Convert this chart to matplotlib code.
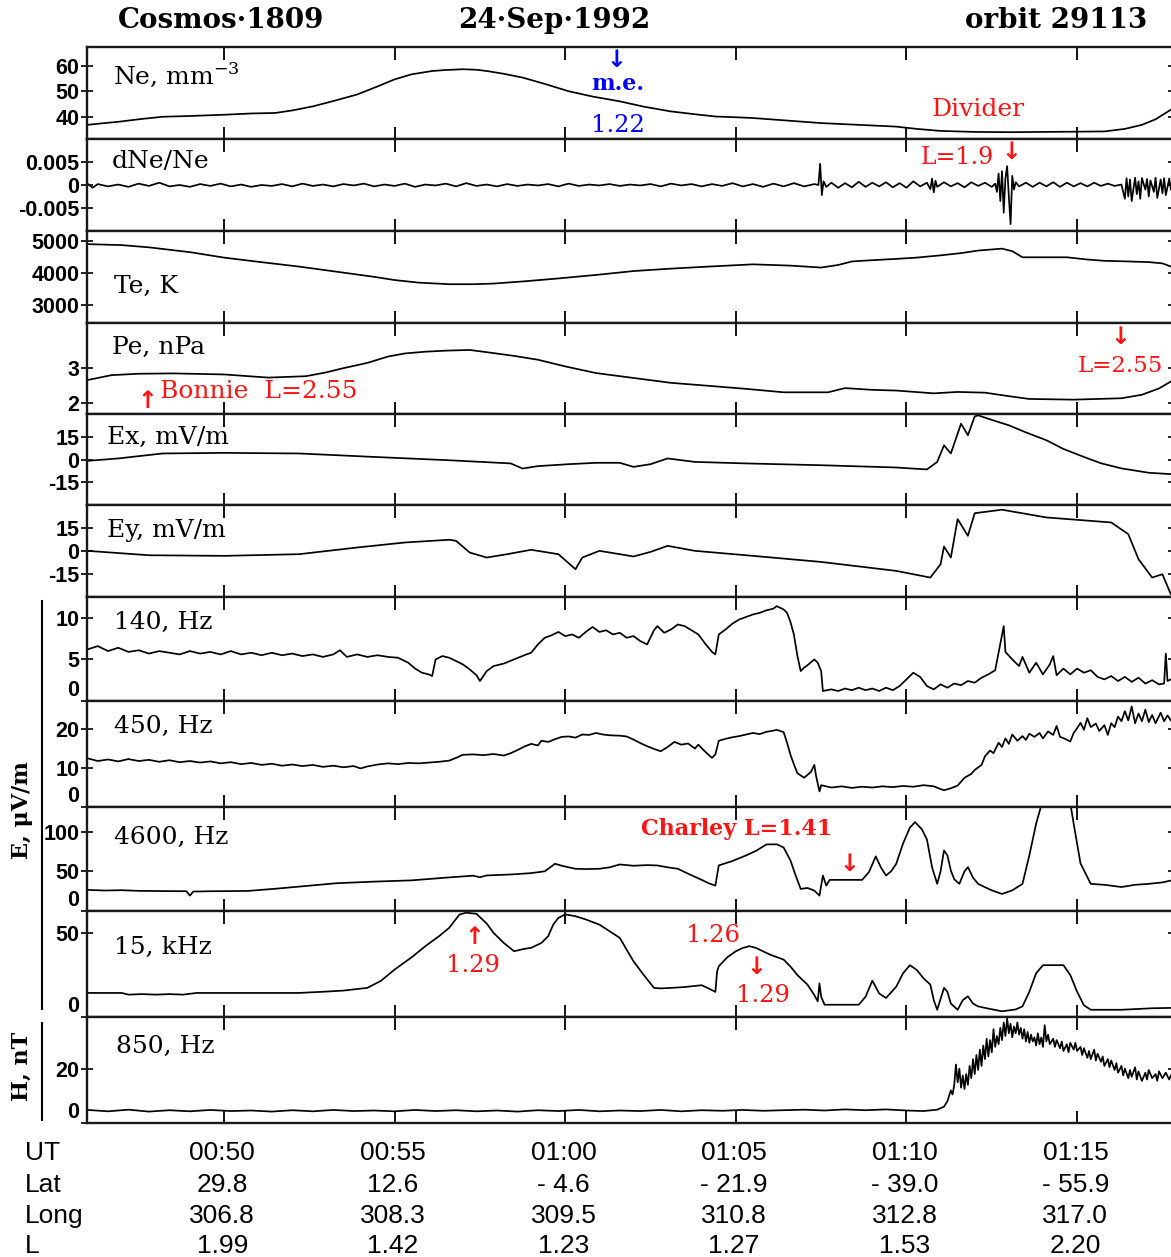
import numpy as np
import matplotlib
matplotlib.use('Agg')
import matplotlib.pyplot as plt
from matplotlib.lines import Line2D
from matplotlib import transforms

# ---------------------------------------------------------------
# data, time in minutes after 00:00 UT
# ---------------------------------------------------------------

ut_ticks = [50, 55, 60, 65, 70, 75]
ut_labels = ['00:50', '00:55', '01:00', '01:05', '01:10', '01:15']
lat_labels = ['29.8', '12.6', '- 4.6', '- 21.9', '- 39.0', '- 55.9']
long_labels = ['306.8', '308.3', '309.5', '310.8', '312.8', '317.0']
l_labels = ['1.99', '1.42', '1.23', '1.27', '1.53', '2.20']

# Ne, mm-3
ne_pts = [(46.0, 36.8), (46.5, 37.5), (46.9, 38.0), (47.5, 39.0), (48.2, 40.0),
          (49.0, 40.3), (50.0, 40.8), (50.8, 41.3), (51.5, 41.5), (52.0, 42.5),
          (52.6, 44.1), (53.2, 46.2), (53.9, 48.8), (54.5, 52.0), (55.0, 54.8),
          (55.5, 56.8), (56.1, 58.1), (56.5, 58.5), (57.0, 58.8), (57.4, 58.6),
          (57.7, 58.1), (58.2, 57.0), (58.75, 55.5), (59.4, 53.0), (60.1, 50.1),
          (60.8, 48.0), (61.6, 46.1), (62.3, 44.0), (63.1, 42.1), (63.8, 41.0),
          (64.4, 40.1), (65.0, 39.8), (65.5, 39.5), (66.5, 38.5), (67.5, 37.5),
          (68.6, 36.8), (69.7, 36.1), (70.3, 35.2), (71.0, 34.4), (72.0, 34.0),
          (73.0, 33.9), (74.0, 34.0), (75.0, 34.1), (75.8, 34.2), (76.4, 35.2),
          (76.9, 36.8), (77.3, 39.0), (77.75, 42.8)]

# dNe/Ne, in units of 1e-3
dne_pts = [(46.0, 0.3), (46.15, -0.6), (46.3, 0.2), (46.6, -0.3), (46.9, 0.1), (47.2, -0.4),
           (47.5, 0.3), (47.8, -0.2), (48.1, 0.5), (48.4, -0.3), (48.7, 0.0), (49.0, -0.4),
           (49.3, 0.2), (49.6, -0.2), (49.9, 0.3), (50.2, -0.3), (50.5, 0.1), (50.8, -0.4),
           (51.1, 0.0), (51.4, -0.2), (51.7, 0.2), (52.0, -0.3), (52.3, 0.3), (52.6, -0.2),
           (52.9, 0.1), (53.2, -0.3), (53.5, 0.2), (53.8, -0.1), (54.1, 0.3), (54.4, -0.3),
           (54.7, 0.1), (55.0, -0.2), (55.3, 0.3), (55.6, -0.4), (55.9, 0.1), (56.2, -0.1),
           (56.5, 0.3), (56.8, -0.3), (57.1, 0.4), (57.4, -0.2), (57.7, 0.1), (58.0, -0.3),
           (58.3, 0.2), (58.6, -0.2), (58.9, 0.1), (59.2, -0.1), (59.5, 0.2), (59.8, -0.3),
           (60.1, 0.3), (60.4, -0.2), (60.7, 0.1), (61.0, -0.1), (61.3, 0.2), (61.6, -0.2),
           (61.9, 0.1), (62.2, -0.1), (62.5, 0.2), (62.8, -0.3), (63.1, 0.3), (63.4, -0.1),
           (63.7, 0.2), (64.0, -0.3), (64.3, 0.2), (64.6, -0.2), (64.9, 0.4), (65.2, -0.3),
           (65.5, 0.2), (65.8, -0.4), (66.1, 0.3), (66.4, -0.3), (66.7, 0.4), (67.0, -0.3),
           (67.3, 0.2), (67.42, 0.0), (67.47, 4.6), (67.52, -2.2), (67.57, 0.8), (67.65, -0.4),
           (67.8, 0.5), (68.0, -0.6), (68.2, 0.4), (68.4, -0.5), (68.6, 0.7), (68.8, -0.4),
           (69.0, 0.5), (69.2, -0.3), (69.4, 0.6), (69.6, -0.5), (69.8, 0.4), (70.0, -0.6),
           (70.2, 0.8), (70.4, -0.3), (70.6, 0.5), (70.7, -0.9), (70.75, 1.4), (70.8, -1.6),
           (70.85, 0.9), (70.9, -0.4), (71.1, 0.6), (71.3, -0.3), (71.5, 0.4), (71.7, -0.5),
           (71.9, 0.6), (72.1, -0.2), (72.3, 0.5), (72.5, -0.4), (72.6, 0.3), (72.65, -1.5),
           (72.7, 2.5), (72.75, -3.5), (72.8, 3.0), (72.85, -6.0), (72.9, 1.5), (72.95, 4.1),
           (73.0, -2.5), (73.05, -8.5), (73.1, 2.0), (73.15, -1.0), (73.2, 0.6), (73.3, -0.3),
           (73.5, 0.5), (73.7, -0.4), (73.9, 0.5), (74.1, -0.3), (74.3, 0.6), (74.5, -0.4),
           (74.7, 0.5), (74.9, -0.3), (75.1, 0.4), (75.3, -0.3), (75.5, 0.5), (75.7, -0.2),
           (75.9, 0.3), (76.1, -0.2), (76.3, 0.1), (76.4, -3.0), (76.45, 1.5), (76.5, -2.5),
           (76.55, 1.2), (76.6, -3.5), (76.7, 1.6), (76.75, -2.0), (76.8, 0.8), (76.85, -3.0),
           (76.9, 1.5), (77.0, -1.0), (77.05, 1.3), (77.1, -2.5), (77.15, 1.0), (77.25, -1.5),
           (77.3, 1.6), (77.35, -2.8), (77.45, 1.2), (77.5, -1.8), (77.55, 1.5), (77.6, -2.2),
           (77.7, 1.4), (77.75, -1.0)]

# Te, K
te_pts = [(46.0, 4900), (47.0, 4870), (47.8, 4800), (49.0, 4650), (50.0, 4480),
          (51.0, 4350), (52.2, 4200), (53.3, 4040), (54.4, 3880), (55.0, 3780),
          (55.7, 3700), (56.6, 3650), (57.3, 3650), (57.9, 3670), (58.8, 3740),
          (59.8, 3830), (61.0, 3950), (62.0, 4060), (63.0, 4130), (64.2, 4200),
          (65.5, 4270), (66.6, 4230), (67.5, 4170), (68.0, 4250), (68.4, 4360),
          (69.0, 4400), (69.7, 4440), (70.3, 4480), (71.0, 4550), (71.6, 4620),
          (72.1, 4700), (72.8, 4760), (73.1, 4680), (73.4, 4490), (74.0, 4490),
          (74.7, 4490), (75.3, 4420), (75.8, 4380), (76.5, 4360), (77.1, 4340),
          (77.5, 4300), (77.75, 4200)]

# Pe, nPa
pe_pts = [(46.0, 2.66), (46.7, 2.80), (47.5, 2.84), (48.5, 2.85), (50.0, 2.82),
          (51.3, 2.73), (52.4, 2.77), (53.0, 2.88), (53.5, 3.00), (54.2, 3.15),
          (54.8, 3.33), (55.3, 3.42), (55.9, 3.47), (56.5, 3.50), (57.2, 3.52),
          (57.9, 3.43), (58.5, 3.35), (59.2, 3.24), (60.0, 3.05), (60.9, 2.86),
          (62.0, 2.72), (63.1, 2.58), (64.4, 2.48), (65.4, 2.40), (66.4, 2.31),
          (67.7, 2.31), (68.2, 2.43), (69.0, 2.38), (69.7, 2.36), (70.8, 2.28),
          (71.5, 2.32), (72.3, 2.30), (73.0, 2.20), (73.6, 2.12), (74.9, 2.10),
          (75.6, 2.12), (76.3, 2.14), (76.9, 2.24), (77.4, 2.42), (77.75, 2.62)]

# Ex, mV/m
ex_pts = [(46.0, -0.9), (46.9, 0.7), (48.2, 4.0), (50.0, 4.4), (52.2, 4.0),
          (54.4, 1.7), (56.6, -0.5), (58.4, -2.6), (58.75, -6.0), (59.2, -4.4),
          (60.1, -3.1), (60.9, -2.2), (61.6, -2.2), (62.0, -4.9), (62.5, -3.1),
          (63.0, 0.7), (63.8, -1.6), (65.3, -2.6), (67.5, -3.8), (69.7, -5.3),
          (70.6, -6.6), (70.9, -1.6), (71.1, 9.4), (71.3, 4.0), (71.6, 23.8),
          (71.8, 16.1), (72.0, 28.6), (72.1, 29.3), (72.5, 26.3), (73.0, 22.7),
          (73.5, 18.0), (74.1, 12.8), (74.6, 7.0), (75.2, 1.7), (75.7, -2.5),
          (76.3, -5.9), (77.1, -8.8), (77.75, -9.7)]

# Ey, mV/m
ey_pts = [(46.0, 0.0), (47.8, -2.9), (50.0, -3.3), (52.2, -2.2), (53.9, 2.2),
          (55.3, 5.5), (56.6, 7.3), (56.8, 6.6), (57.2, -1.1), (57.7, -4.4),
          (58.3, -2.2), (59.0, 0.7), (59.8, -2.2), (60.3, -12.1), (60.5, -4.4),
          (61.0, 0.0), (61.6, -2.2), (62.0, -3.7), (62.5, -0.7), (63.0, 3.3),
          (63.8, 0.0), (65.3, -2.9), (67.5, -7.3), (69.7, -13.2), (70.7, -17.6),
          (71.0, -8.8), (71.1, 2.9), (71.3, -4.4), (71.5, 20.9), (71.8, 9.9),
          (72.0, 24.8), (72.8, 27.1), (74.1, 22.0), (76.0, 18.7), (76.5, 11.0),
          (76.8, -5.5), (77.2, -17.6), (77.5, -15.4), (77.75, -28.7)]

# E, uV/m at 140 Hz
e140_pts = [(46.0, 6.2), (46.3, 6.6), (46.6, 6.0), (46.9, 6.4), (47.2, 5.9), (47.5, 6.1),
            (47.8, 5.7), (48.1, 6.0), (48.4, 5.8), (48.7, 5.6), (49.0, 6.0), (49.3, 5.7),
            (49.6, 5.9), (49.9, 5.6), (50.2, 6.0), (50.5, 5.6), (50.8, 5.8), (51.1, 5.5),
            (51.4, 5.8), (51.7, 5.5), (52.0, 5.7), (52.3, 5.4), (52.6, 5.6), (52.9, 5.3),
            (53.2, 5.6), (53.4, 6.1), (53.6, 5.3), (53.9, 5.6), (54.2, 5.3), (54.5, 5.5),
            (54.8, 5.3), (55.1, 5.2), (55.4, 4.6), (55.6, 3.9), (55.8, 3.4), (56.0, 3.2),
            (56.1, 3.0), (56.2, 5.0), (56.4, 5.4), (56.6, 5.2), (56.8, 4.8), (57.0, 4.4),
            (57.2, 3.8), (57.4, 3.1), (57.5, 2.4), (57.7, 3.6), (57.9, 4.2), (58.2, 4.5),
            (58.5, 5.0), (58.8, 5.5), (59.0, 5.8), (59.2, 6.8), (59.4, 7.6), (59.6, 7.9),
            (59.8, 8.3), (60.0, 7.8), (60.2, 8.0), (60.4, 7.6), (60.6, 8.3), (60.8, 8.9),
            (61.0, 8.3), (61.2, 8.5), (61.4, 8.0), (61.6, 8.2), (61.8, 7.6), (62.0, 7.8),
            (62.2, 7.2), (62.4, 6.8), (62.6, 8.5), (62.7, 9.0), (62.9, 8.2), (63.1, 8.6),
            (63.3, 9.2), (63.5, 9.0), (63.7, 8.5), (63.9, 8.0), (64.1, 6.9), (64.3, 5.9),
            (64.4, 5.6), (64.5, 8.0), (64.7, 8.6), (64.9, 9.3), (65.1, 9.8), (65.3, 10.1),
            (65.5, 10.4), (65.7, 10.6), (65.9, 10.9), (66.1, 11.1), (66.2, 11.4), (66.4, 11.0),
            (66.5, 10.6), (66.6, 9.5), (66.7, 8.0), (66.8, 5.5), (66.9, 3.6), (67.0, 4.0),
            (67.1, 4.3), (67.3, 5.0), (67.4, 4.6), (67.5, 3.6), (67.55, 1.2), (67.8, 1.4),
            (68.0, 1.2), (68.2, 1.5), (68.4, 1.3), (68.6, 1.6), (68.8, 1.3), (69.0, 1.5),
            (69.2, 1.2), (69.4, 1.6), (69.6, 1.3), (69.8, 1.8), (70.0, 2.6), (70.2, 3.4),
            (70.4, 2.9), (70.6, 1.8), (70.8, 1.4), (71.0, 2.0), (71.2, 1.6), (71.4, 2.1),
            (71.6, 1.9), (71.8, 2.4), (72.0, 2.2), (72.2, 2.8), (72.4, 3.2), (72.6, 3.7),
            (72.7, 5.8), (72.85, 9.0), (72.9, 5.9), (73.1, 5.0), (73.3, 4.2), (73.4, 5.3),
            (73.6, 3.4), (73.8, 4.6), (74.0, 3.2), (74.2, 4.4), (74.3, 5.4), (74.4, 3.1),
            (74.6, 3.9), (74.8, 3.2), (75.0, 3.9), (75.2, 3.4), (75.4, 3.7), (75.6, 2.9),
            (75.8, 2.6), (76.0, 3.0), (76.2, 2.4), (76.4, 2.9), (76.6, 2.3), (76.8, 2.8),
            (77.0, 2.1), (77.2, 2.5), (77.4, 2.0), (77.55, 2.1), (77.6, 5.7), (77.65, 2.4),
            (77.75, 2.6)]

# E, uV/m at 450 Hz
e450_pts = [(46.0, 12.5), (46.3, 11.8), (46.6, 12.2), (46.9, 11.7), (47.2, 12.3), (47.5, 11.8),
            (47.8, 12.1), (48.1, 11.6), (48.4, 12.0), (48.7, 11.5), (49.0, 11.8), (49.3, 11.4),
            (49.6, 11.7), (49.9, 11.2), (50.2, 11.5), (50.5, 11.0), (50.8, 11.3), (51.1, 10.8),
            (51.4, 11.1), (51.7, 10.6), (52.0, 10.9), (52.3, 10.5), (52.6, 10.8), (52.9, 10.3),
            (53.2, 10.6), (53.5, 10.2), (53.8, 10.5), (54.0, 9.9), (54.2, 10.4), (54.5, 10.9),
            (54.8, 11.2), (55.1, 11.0), (55.4, 11.3), (55.7, 11.2), (56.0, 11.4), (56.3, 11.6),
            (56.6, 11.9), (56.8, 12.6), (57.0, 13.4), (57.3, 13.5), (57.6, 13.3), (57.9, 13.6),
            (58.2, 13.2), (58.4, 13.8), (58.6, 14.6), (58.8, 15.5), (59.0, 16.2), (59.2, 15.8),
            (59.3, 17.0), (59.5, 16.7), (59.7, 17.4), (59.9, 18.0), (60.1, 18.1), (60.3, 17.8),
            (60.5, 18.6), (60.7, 18.5), (60.9, 19.0), (61.1, 18.6), (61.3, 18.4), (61.6, 18.3),
            (61.8, 18.1), (62.0, 17.3), (62.2, 16.4), (62.4, 15.6), (62.6, 14.9), (62.8, 14.3),
            (63.0, 15.4), (63.2, 16.7), (63.4, 16.0), (63.6, 16.3), (63.8, 15.0), (63.9, 16.0),
            (64.1, 14.2), (64.3, 12.6), (64.4, 13.5), (64.5, 17.0), (64.7, 17.5), (64.9, 17.9),
            (65.1, 18.2), (65.3, 18.6), (65.5, 19.0), (65.7, 18.7), (65.9, 19.3), (66.1, 19.6),
            (66.2, 19.8), (66.4, 19.2), (66.5, 16.5), (66.6, 13.4), (66.7, 11.0), (66.8, 8.7),
            (67.0, 7.5), (67.2, 9.0), (67.3, 10.8), (67.35, 8.0), (67.45, 4.0), (67.5, 5.6),
            (67.8, 5.0), (68.1, 5.3), (68.4, 4.9), (68.7, 5.2), (69.0, 5.0), (69.3, 5.3),
            (69.6, 5.1), (69.9, 5.4), (70.2, 5.2), (70.5, 5.6), (70.8, 5.3), (71.0, 4.6),
            (71.1, 4.3), (71.3, 4.8), (71.5, 5.5), (71.7, 7.5), (71.9, 8.5), (72.0, 9.5),
            (72.2, 10.8), (72.3, 13.0), (72.45, 14.5), (72.55, 13.8), (72.7, 16.5), (72.8, 15.4),
            (72.9, 17.6), (73.0, 16.2), (73.1, 18.6), (73.25, 17.0), (73.4, 18.2), (73.5, 17.2),
            (73.6, 18.8), (73.75, 18.0), (73.9, 19.0), (74.0, 17.6), (74.15, 19.4), (74.3, 18.5),
            (74.4, 20.8), (74.5, 18.0), (74.65, 17.5), (74.8, 16.8), (74.9, 19.0), (75.0, 20.2),
            (75.1, 21.6), (75.2, 19.8), (75.3, 22.8), (75.4, 20.5), (75.55, 21.4), (75.65, 19.5),
            (75.8, 21.0), (75.9, 18.5), (76.0, 21.5), (76.1, 20.5), (76.2, 23.2), (76.3, 22.0),
            (76.4, 24.6), (76.5, 22.2), (76.6, 25.8), (76.7, 21.5), (76.8, 24.0), (76.9, 22.0),
            (77.0, 25.0), (77.1, 21.8), (77.2, 23.6), (77.3, 21.5), (77.45, 24.2), (77.55, 22.0),
            (77.65, 23.5), (77.75, 22.2)]

# E, uV/m at 4600 Hz
e4600_pts = [(46.0, 26.6), (46.5, 25.8), (47.0, 26.2), (47.5, 25.4), (48.0, 25.2),
             (48.5, 25.0), (48.9, 24.9), (49.0, 19.4), (49.1, 24.5), (49.6, 24.9),
             (50.0, 25.0), (50.7, 25.3), (51.5, 28.0), (52.4, 31.5), (53.3, 35.0),
             (54.4, 37.0), (55.5, 38.6), (56.5, 42.0), (57.3, 44.5), (57.5, 42.5),
             (57.7, 44.8), (58.4, 46.0), (59.0, 47.7), (59.4, 50.0), (59.7, 59.5),
             (59.9, 57.0), (60.1, 55.0), (60.3, 53.2), (60.6, 52.8), (61.0, 53.2),
             (61.3, 55.0), (61.6, 58.6), (62.0, 57.0), (62.4, 57.8), (62.7, 57.4),
             (63.0, 55.0), (63.3, 53.2), (63.6, 47.0), (64.0, 39.2), (64.2, 35.0),
             (64.4, 32.0), (64.45, 45.0), (64.5, 57.4), (64.9, 63.0), (65.3, 70.0),
             (65.6, 76.0), (65.9, 83.9), (66.2, 84.0), (66.4, 80.0), (66.6, 63.7),
             (66.75, 45.0), (66.9, 27.8), (67.1, 29.0), (67.3, 25.7), (67.45, 19.4),
             (67.55, 44.7), (67.65, 32.0), (67.75, 39.2), (68.2, 39.2), (68.7, 39.2),
             (68.9, 49.0), (69.1, 68.8), (69.25, 55.0), (69.4, 44.7), (69.55, 50.0),
             (69.7, 59.5), (69.9, 85.0), (70.1, 105.0), (70.25, 112.0), (70.45, 103.0),
             (70.6, 90.0), (70.75, 55.0), (70.9, 34.2), (71.0, 50.0), (71.1, 76.3),
             (71.2, 70.0), (71.3, 51.0), (71.4, 40.0), (71.55, 34.2), (71.7, 50.0),
             (71.8, 55.3), (71.95, 42.0), (72.1, 34.2), (72.3, 30.0), (72.5, 26.0),
             (72.8, 21.5), (73.1, 26.0), (73.4, 34.2), (73.6, 70.0), (73.8, 110.0),
             (73.95, 133.0), (74.0, 136.0), (74.8, 136.0), (74.9, 110.0), (75.1, 60.0),
             (75.4, 34.2), (75.8, 33.0), (76.3, 30.2), (76.7, 33.0), (77.1, 34.2),
             (77.5, 36.0), (77.75, 38.4)]

# E, uV/m at 15 kHz
e15k_pts = [(46.0, 14.3), (46.5, 14.3), (47.0, 14.3), (47.2, 13.3), (47.6, 13.6),
            (48.0, 13.3), (48.4, 13.6), (48.8, 13.3), (49.2, 14.3), (50.0, 14.3),
            (51.0, 14.3), (52.2, 14.3), (52.9, 15.0), (53.5, 15.7), (54.2, 17.3),
            (54.6, 21.5), (55.0, 28.2), (55.5, 35.5), (55.9, 42.1), (56.3, 48.0),
            (56.6, 53.0), (56.9, 60.9), (57.1, 62.0), (57.4, 61.3), (57.7, 55.5),
            (57.9, 50.0), (58.2, 44.0), (58.5, 39.1), (58.8, 40.5), (59.0, 41.1),
            (59.3, 44.0), (59.5, 48.0), (59.65, 55.0), (59.8, 58.9), (60.0, 61.0),
            (60.3, 59.9), (60.6, 58.0), (61.0, 54.9), (61.3, 51.0), (61.6, 47.0),
            (61.8, 40.0), (62.0, 33.1), (62.3, 25.0), (62.6, 17.3), (62.8, 17.0),
            (63.1, 17.3), (63.5, 17.8), (64.0, 18.9), (64.2, 17.0), (64.4, 14.9),
            (64.45, 27.0), (64.5, 30.2), (64.75, 35.5), (65.0, 39.1), (65.2, 41.0),
            (65.4, 42.1), (65.6, 41.0), (65.8, 39.0), (66.0, 37.1), (66.4, 34.1),
            (66.6, 30.0), (66.8, 25.0), (67.1, 19.2), (67.3, 13.0), (67.4, 9.3),
            (67.45, 20.0), (67.5, 12.0), (67.6, 7.3), (68.6, 7.3), (68.8, 12.0),
            (69.0, 21.6), (69.2, 14.0), (69.4, 11.3), (69.7, 18.0), (69.9, 26.0),
            (70.1, 30.8), (70.3, 28.0), (70.5, 23.0), (70.7, 19.2), (70.8, 10.0),
            (70.9, 4.3), (71.1, 17.3), (71.2, 15.0), (71.3, 8.0), (71.5, 4.3),
            (71.65, 10.0), (71.8, 12.3), (71.95, 8.0), (72.1, 6.3), (72.4, 5.0),
            (72.8, 3.4), (73.2, 4.5), (73.4, 6.3), (73.6, 15.0), (73.8, 26.0),
            (74.0, 30.8), (74.6, 30.8), (74.8, 25.0), (75.0, 15.0), (75.2, 7.0),
            (75.4, 4.3), (76.0, 4.3), (76.3, 4.3), (76.8, 4.8), (77.2, 5.2),
            (77.75, 5.4)]

# H, nT at 850 Hz
h850_pts = [(46.0, 4.8), (46.6, 4.3), (47.2, 4.9), (47.8, 4.2), (48.4, 4.7), (49.0, 4.3),
            (49.6, 4.8), (50.2, 4.4), (50.8, 4.6), (51.4, 4.2), (52.0, 4.7), (52.6, 4.3),
            (53.2, 4.8), (53.8, 4.4), (54.4, 4.6), (55.0, 4.3), (55.6, 4.8), (56.2, 4.4),
            (56.8, 4.7), (57.4, 4.3), (58.0, 4.6), (58.6, 4.2), (59.2, 4.7), (59.8, 4.4),
            (60.4, 4.8), (61.0, 4.3), (61.6, 4.6), (62.2, 4.4), (62.8, 4.8), (63.4, 4.3),
            (64.0, 4.7), (64.6, 4.5), (65.2, 4.8), (65.8, 4.5), (66.4, 4.7), (67.0, 4.9),
            (67.6, 4.6), (68.2, 5.0), (68.8, 4.7), (69.4, 5.0), (70.0, 4.6), (70.5, 4.4),
            (70.9, 4.9), (71.1, 6.0), (71.2, 8.0), (71.3, 12.0), (71.35, 10.5), (71.4, 14.0),
            (71.45, 21.5), (71.5, 15.0), (71.55, 20.0), (71.6, 13.0), (71.65, 17.5), (71.7, 12.5),
            (71.75, 18.0), (71.8, 14.0), (71.85, 21.0), (71.9, 16.5), (71.95, 23.5), (72.0, 18.0),
            (72.05, 25.0), (72.1, 19.5), (72.15, 27.0), (72.2, 21.0), (72.25, 28.5), (72.3, 23.5),
            (72.35, 31.0), (72.4, 24.5), (72.45, 30.5), (72.5, 26.0), (72.55, 34.5), (72.6, 28.0),
            (72.65, 32.0), (72.7, 29.0), (72.75, 35.0), (72.8, 30.5), (72.85, 37.0), (72.9, 32.0),
            (72.95, 38.5), (73.0, 33.0), (73.05, 36.5), (73.1, 31.5), (73.15, 35.5), (73.2, 33.0),
            (73.25, 37.0), (73.3, 32.5), (73.35, 35.0), (73.4, 31.0), (73.45, 34.5), (73.5, 30.0),
            (73.55, 33.5), (73.6, 29.5), (73.65, 32.5), (73.7, 30.0), (73.75, 31.5), (73.8, 28.5),
            (73.85, 33.0), (73.9, 29.0), (73.95, 31.5), (74.0, 28.0), (74.05, 36.0), (74.1, 30.0),
            (74.15, 32.5), (74.2, 29.0), (74.3, 31.0), (74.35, 28.0), (74.4, 30.5), (74.5, 27.5),
            (74.55, 30.0), (74.6, 26.5), (74.7, 29.0), (74.75, 26.0), (74.8, 29.5), (74.9, 27.0),
            (74.95, 29.5), (75.0, 26.5), (75.1, 28.0), (75.15, 25.0), (75.2, 27.5), (75.3, 24.0),
            (75.35, 26.5), (75.4, 23.5), (75.5, 27.0), (75.55, 23.0), (75.6, 25.5), (75.7, 22.5),
            (75.75, 24.5), (75.8, 21.0), (75.9, 23.5), (75.95, 20.5), (76.0, 23.0), (76.1, 19.5),
            (76.15, 22.0), (76.2, 18.5), (76.3, 21.0), (76.35, 17.5), (76.4, 20.0), (76.5, 16.5),
            (76.55, 19.5), (76.6, 17.0), (76.7, 20.5), (76.75, 16.0), (76.8, 19.0), (76.9, 15.5),
            (77.0, 18.5), (77.05, 16.0), (77.1, 19.5), (77.2, 16.5), (77.3, 18.0), (77.35, 15.5),
            (77.4, 19.0), (77.5, 16.5), (77.6, 18.5), (77.7, 16.0), (77.75, 17.5)]

# ---------------------------------------------------------------
# layout (pixels of the 1171 x 1257 original)
# ---------------------------------------------------------------
W, H = 1171, 1257
edges = [47, 139, 231, 323, 414, 505, 597, 701, 807, 911, 1017, 1123]
x_left, x_right = 87, 1174
t_min, t_max = 45.985, 77.84

RED = '#ff1414'
BLUE = '#0000ff'
SERIF = 'DejaVu Serif'
SANS = 'Liberation Sans'

fig = plt.figure(figsize=(W / 100, H / 100), dpi=100)
fig.patch.set_facecolor('white')


def fx(x):
    return x / W


def fy(y):
    return 1 - y / H


def panel(i, pts, ylim, yticks, yticklabels, label, lab_xy, zero_up=False):
    ax = fig.add_axes([fx(x_left), fy(edges[i + 1]),
                       (x_right - x_left) / W, (edges[i + 1] - edges[i]) / H])
    t, v = np.array(pts).T
    ax.plot(t, v, color='black', lw=1.25)
    ax.set_xlim(t_min, t_max)
    ax.set_ylim(*ylim)
    ax.set_xticks(ut_ticks)
    ax.set_xticklabels([])
    ax.tick_params(axis='x', direction='in', length=9, width=1.3,
                   top=True, bottom=True, colors='black')
    ax.set_yticks(yticks)
    ax.set_yticklabels(yticklabels, fontsize=15.5, fontweight='bold', family=SANS)
    ax.tick_params(axis='y', direction='inout', length=9, width=1.2,
                   left=True, right=True, pad=1)
    if zero_up:
        ax.get_yticklabels()[0].set_va('bottom')
    for s in ax.spines.values():
        s.set_linewidth(1.7)
        s.set_color('#1a1a1a')
    fig.text(fx(lab_xy[0]), fy(lab_xy[1]), label, family=SERIF, fontsize=18,
             ha='left', va='center')
    return ax


panel(0, ne_pts, (31.2, 67.6), [40, 50, 60], ['40', '50', '60'],
      'Ne, mm$^{\\mathregular{-3}}$', (113, 75))
panel(1, dne_pts, (-10, 10), [-5, 0, 5], ['-0.005', '0', '0.005'], 'dNe/Ne', (112, 161))
panel(2, te_pts, (2440, 5310), [3000, 4000, 5000], ['3000', '4000', '5000'], 'Te, K', (114, 286))
panel(3, pe_pts, (1.69, 4.29), [2, 3], ['2', '3'], 'Pe, nPa', (112, 347))
panel(4, ex_pts, (-30.2, 30.2), [-15, 0, 15], ['-15', '0', '15'], 'Ex, mV/m', (107, 437))
panel(5, ey_pts, (-30.4, 30.2), [-15, 0, 15], ['-15', '0', '15'], 'Ey, mV/m', (107, 530))
panel(6, e140_pts, (0, 12.5), [0, 5, 10], ['0', '5', '10'], '140, Hz', (114, 622), True)
panel(7, e450_pts, (0, 27.2), [0, 10, 20], ['0', '10', '20'], '450, Hz', (114, 726), True)
panel(8, e4600_pts, (0, 131), [0, 50, 100], ['0', '50', '100'], '4600, Hz', (114, 837), True)
panel(9, e15k_pts, (0, 63), [0, 50], ['0', '50'], '15, kHz', (114, 947), True)
ax_h = panel(10, h850_pts, (0, 39), [0, 20], ['0', '20'], '850, Hz', (116, 1046), True)

# title line
fig.text(fx(118), fy(20), 'Cosmos·1809', family=SERIF, fontweight='bold', fontsize=20, va='center')
fig.text(fx(458), fy(20), '24·Sep·1992', family=SERIF, fontweight='bold', fontsize=20, va='center')
fig.text(fx(1147), fy(20), 'orbit 29113', family=SERIF, fontweight='bold', fontsize=20,
         va='center', ha='right')

# unit labels on the left with their brackets
fig.text(fx(22), fy(810), 'E, μV/m', family=SERIF, fontweight='bold', fontsize=16,
         rotation=90, ha='center', va='center')
fig.text(fx(22), fy(1066), 'H, nT', family=SERIF, fontweight='bold', fontsize=16,
         rotation=90, ha='center', va='center')
fig.add_artist(Line2D([fx(42), fx(42)], [fy(601), fy(1009)], color='black', lw=1.5))
fig.add_artist(Line2D([fx(42), fx(42)], [fy(1023), fy(1120)], color='black', lw=1.5))


# annotations
def note(x, y, s, color=RED, size=15, weight='normal', family=SERIF, ha='center'):
    fig.text(fx(x), fy(y), s, color=color, fontsize=size, fontweight=weight,
             family=family, ha=ha, va='center')


note(616, 60, '↓', BLUE, 17, 'bold', 'DejaVu Sans')
note(618, 84, 'm.e.', BLUE, 16, 'bold')
note(618, 125, '1.22', BLUE, 17.5)
note(978, 109, 'Divider', RED, 18)
note(957, 157, 'L=1.9', RED, 17)
note(1011, 152, '↓', RED, 17, 'bold', 'DejaVu Sans')
note(147, 401, '↑', RED, 17, 'bold', 'DejaVu Sans')
note(160, 391, 'Bonnie  L=2.55', RED, 18, ha='left')
note(1120, 337, '↓', RED, 17, 'bold', 'DejaVu Sans')
note(1120, 366, 'L=2.55', RED, 16.5)
note(737, 829, 'Charley L=1.41', RED, 16, 'bold')
note(849, 864, '↓', RED, 17, 'bold', 'DejaVu Sans')
note(474, 937, '↑', RED, 17, 'bold', 'DejaVu Sans')
note(473, 966, '1.29', RED, 17.5)
note(713, 936, '1.26', RED, 17.5)
note(756, 967, '↓', RED, 17, 'bold', 'DejaVu Sans')
note(763, 996, '1.29', RED, 17.5)

# orbit table under the last panel
tr = transforms.blended_transform_factory(ax_h.transData, fig.transFigure)
rows = [('UT', ut_labels, 1153), ('Lat', lat_labels, 1185),
        ('Long', long_labels, 1216), ('L', l_labels, 1246)]
for name, vals, y in rows:
    fig.text(fx(25), fy(y), name, family=SANS, fontsize=19, va='center', ha='left')
    for t, s in zip(ut_ticks, vals):
        ax_h.text(t - 0.05, fy(y), s, transform=tr, family=SANS, fontsize=19,
                  va='center', ha='center', clip_on=False)

fig.savefig('out.png', dpi=100)
